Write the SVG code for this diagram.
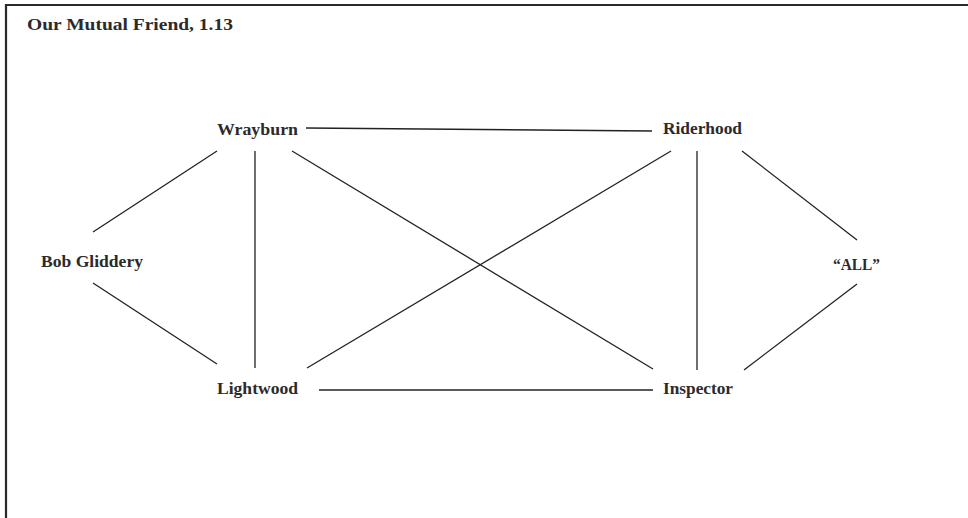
<svg xmlns="http://www.w3.org/2000/svg" width="968" height="518" viewBox="0 0 968 518">
<style>
text{font-family:"Liberation Serif","DejaVu Serif",serif;font-weight:bold;fill:#2b2b2b}
.lbl{font-size:17px}
.ttl{font-size:17.5px}
.edge{stroke:#222;stroke-width:1.3;fill:none}
</style>
<rect x="0" y="0" width="968" height="518" fill="#fff"/>
<path d="M6,530 V5 H980" fill="none" stroke="#2a2a2a" stroke-width="2.2"/>
<text class="ttl" x="27" y="30" textLength="206" lengthAdjust="spacingAndGlyphs">Our Mutual Friend, 1.13</text>
<g id="connectors">
<line class="edge" x1="306" y1="128" x2="652" y2="131"/>
<line class="edge" x1="217" y1="151" x2="93" y2="232"/>
<line class="edge" x1="255" y1="151" x2="255" y2="368"/>
<line class="edge" x1="292" y1="151" x2="653" y2="369"/>
<line class="edge" x1="671" y1="151" x2="307" y2="368"/>
<line class="edge" x1="697" y1="151" x2="697" y2="370"/>
<line class="edge" x1="742" y1="151" x2="857" y2="240"/>
<line class="edge" x1="93" y1="283" x2="217" y2="364"/>
<line class="edge" x1="319" y1="390" x2="653" y2="390"/>
<line class="edge" x1="857" y1="284" x2="744" y2="370"/>
</g>
<g id="wrayburn"><text class="lbl" x="217" y="135" textLength="81" lengthAdjust="spacingAndGlyphs">Wrayburn</text></g>
<g id="riderhood"><text class="lbl" x="663" y="134" textLength="79" lengthAdjust="spacingAndGlyphs">Riderhood</text></g>
<g id="bob-gliddery"><text class="lbl" x="41" y="267" textLength="102" lengthAdjust="spacingAndGlyphs">Bob Gliddery</text></g>
<g id="all"><text class="lbl" x="833" y="270" textLength="47" lengthAdjust="spacingAndGlyphs">“ALL”</text></g>
<g id="lightwood"><text class="lbl" x="217" y="394" textLength="81" lengthAdjust="spacingAndGlyphs">Lightwood</text></g>
<g id="inspector"><text class="lbl" x="663" y="394" textLength="70" lengthAdjust="spacingAndGlyphs">Inspector</text></g>
</svg>
